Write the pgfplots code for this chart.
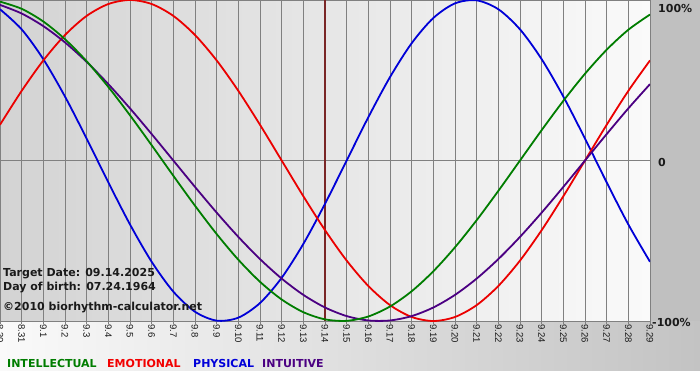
\documentclass[border=0pt]{standalone}
\usepackage{fontspec}
\setmainfont{DejaVu Sans}
\newfontfamily\tickfont{Liberation Sans}
\usepackage{pgfplots}
\pgfplotsset{compat=1.18}
\definecolor{cInt}{RGB}{0,125,0}
\definecolor{cEmo}{RGB}{235,0,0}
\definecolor{cPhy}{RGB}{0,0,215}
\definecolor{cItu}{RGB}{75,0,130}
\definecolor{cMargin}{RGB}{192,192,192}
\definecolor{plotL}{RGB}{211,211,211}
\definecolor{plotR}{RGB}{250,250,250}
\definecolor{stripL}{RGB}{250,250,250}
\definecolor{stripR}{RGB}{195,195,195}
\definecolor{cGrid}{RGB}{128,128,128}
\definecolor{cMark}{RGB}{122,38,38}
\definecolor{cTxt}{RGB}{26,26,26}
\begin{document}
\begin{tikzpicture}[x=1bp,y=1bp]
\useasboundingbox (0,0) rectangle (700,380);
\fill[white] (0,0) rectangle (700,380);
\shade[left color=stripL, right color=stripR] (0,10) rectangle (700,59);
\fill[cMargin] (650,59) rectangle (700,380);
\shade[left color=plotL, right color=plotR] (0,59) rectangle (650,380);
\begin{axis}[
  at={(0bp,59bp)}, anchor=south west, scale only axis,
  width=650bp, height=321bp,
  xmin=0, xmax=30, ymin=-1, ymax=1,
  axis line style={cGrid, line width=0.8bp},
  xtick={0,...,30},
  xticklabels={8.30,8.31,9.1,9.2,9.3,9.4,9.5,9.6,9.7,9.8,9.9,9.10,9.11,9.12,9.13,9.14,9.15,9.16,9.17,9.18,9.19,9.20,9.21,9.22,9.23,9.24,9.25,9.26,9.27,9.28,9.29},
  xtick pos=bottom, tick align=outside, major tick length=3bp,
  xtick style={cGrid, line width=0.8bp},
  xticklabel style={rotate=-90, anchor=west, inner sep=0pt, font=\tickfont\fontsize{9.5bp}{10bp}\selectfont, text=cTxt},
  ytick={0}, yticklabels={}, ytick style={draw=none},
  xmajorgrids, ymajorgrids,
  grid style={cGrid, line width=0.8bp},
  clip=true,
]
\addplot[cMark, line width=2.2bp] coordinates {(15,-1) (15,1)};
% Physical
\addplot[cPhy, line width=1.8bp, smooth, no marks] coordinates {
(0,0.9423) (1,0.8170) (2,0.6311) (3,0.3984) (4,0.1362) (5,-0.1362) (6,-0.3984) (7,-0.6311) (8,-0.8170) (9,-0.9423) (10,-0.9977) (11,-0.9791) (12,-0.8879) (13,-0.7308) (14,-0.5196) (15,-0.2698) (16,0) (17,0.2698) (18,0.5196) (19,0.7308) (20,0.8879) (21,0.9791) (22,0.9977) (23,0.9423) (24,0.8170) (25,0.6311) (26,0.3984) (27,0.1362) (28,-0.1362) (29,-0.3984) (30,-0.6311)};
% Emotional
\addplot[cEmo, line width=1.8bp, smooth, no marks] coordinates {
(0,0.2225) (1,0.4339) (2,0.6235) (3,0.7818) (4,0.9010) (5,0.9749) (6,1) (7,0.9749) (8,0.9010) (9,0.7818) (10,0.6235) (11,0.4339) (12,0.2225) (13,0) (14,-0.2225) (15,-0.4339) (16,-0.6235) (17,-0.7818) (18,-0.9010) (19,-0.9749) (20,-1) (21,-0.9749) (22,-0.9010) (23,-0.7818) (24,-0.6235) (25,-0.4339) (26,-0.2225) (27,0) (28,0.2225) (29,0.4339) (30,0.6235)};
% Intuitive
\addplot[cItu, line width=1.8bp, smooth, no marks] coordinates {
(0,0.9694) (1,0.9158) (2,0.8372) (3,0.7357) (4,0.6142) (5,0.4759) (6,0.3247) (7,0.1646) (8,0) (9,-0.1646) (10,-0.3247) (11,-0.4759) (12,-0.6142) (13,-0.7357) (14,-0.8372) (15,-0.9158) (16,-0.9694) (17,-0.9966) (18,-0.9966) (19,-0.9694) (20,-0.9158) (21,-0.8372) (22,-0.7357) (23,-0.6142) (24,-0.4759) (25,-0.3247) (26,-0.1646) (27,0) (28,0.1646) (29,0.3247) (30,0.4759)};
% Intellectual
\addplot[cInt, line width=1.8bp, smooth, no marks] coordinates {
(0,0.9898) (1,0.9450) (2,0.8660) (3,0.7557) (4,0.6182) (5,0.4582) (6,0.2817) (7,0.0951) (8,-0.0951) (9,-0.2817) (10,-0.4582) (11,-0.6182) (12,-0.7557) (13,-0.8660) (14,-0.9450) (15,-0.9898) (16,-0.9989) (17,-0.9718) (18,-0.9096) (19,-0.8146) (20,-0.6901) (21,-0.5406) (22,-0.3717) (23,-0.1893) (24,0) (25,0.1893) (26,0.3717) (27,0.5406) (28,0.6901) (29,0.8146) (30,0.9096)};
\end{axis}
\begin{scope}[every node/.style={inner sep=0pt, anchor=base west, font=\bfseries\fontsize{11bp}{13bp}\selectfont, text=cTxt}]
\node at (3,103.5) {Target Date: 09.14.2025};
\node at (3,90) {Day of birth: 07.24.1964};
\node at (3,70) {©2010 biorhythm-calculator.net};
\node at (658,368) {100\%};
\node at (658,214) {0};
\node at (652,54) {-100\%};
\node[text=cInt] at (7,13) {INTELLECTUAL};
\node[text=red!95!black] at (107,13) {EMOTIONAL};
\node[text=blue!85!black] at (193,13) {PHYSICAL};
\node[text=cItu] at (262,13) {INTUITIVE};
\end{scope}
\end{tikzpicture}
\end{document}
